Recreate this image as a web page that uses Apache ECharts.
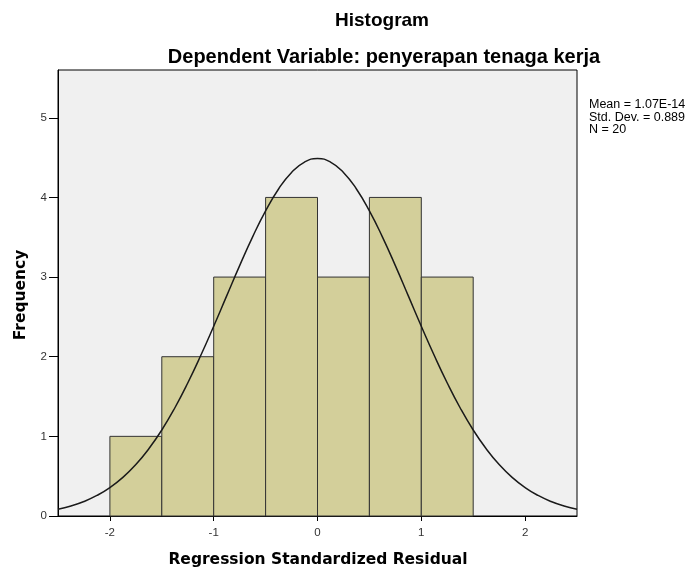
<!DOCTYPE html>
<html>
<head>
<meta charset="utf-8">
<script src="https://cdn.jsdelivr.net/npm/echarts@6/dist/echarts.min.js"></script>
<style>html,body{margin:0;padding:0;background:#fff;}#c{width:691px;height:572px;}</style>
</head>
<body>
<div id="c"></div>
<script>
// Histogram bins (lower edge, upper edge) and frequencies
var binStart = [-2.0, -1.5, -1.0, -0.5, 0.0, 0.5, 1.0];
var binEnd   = [-1.5, -1.0, -0.5, 0.0, 0.5, 1.0, 1.5];
var freq     = [1, 2, 3, 4, 3, 4, 3];

// Normal curve points
var curveX = [-2.5,-2.375,-2.25,-2.125,-2.0,-1.875,-1.75,-1.625,-1.5,-1.375,-1.25,-1.125,-1.0,-0.875,-0.75,-0.625,-0.5,-0.375,-0.25,-0.125,0,0.125,0.25,0.375,0.5,0.625,0.75,0.875,1.0,1.125,1.25,1.375,1.5,1.625,1.75,1.875,2.0,2.125,2.25,2.375,2.5];
var curveY = [0.086,0.126,0.182,0.258,0.357,0.485,0.646,0.844,1.080,1.356,1.670,2.015,2.383,2.764,3.144,3.505,3.831,4.106,4.314,4.444,4.488,4.444,4.314,4.106,3.831,3.505,3.144,2.764,2.383,2.015,1.670,1.356,1.080,0.844,0.646,0.485,0.357,0.258,0.182,0.126,0.086];

var xTicks = [-2, -1, 0, 1, 2];
var yTicks = [0, 1, 2, 3, 4, 5];
var statsLines = ['Mean = 1.07E-14', 'Std. Dev. = 0.889', 'N = 20'];

var barData = binStart.map(function (s, i) { return [s, binEnd[i], freq[i]]; });
var curveData = curveX.map(function (x, i) { return [x, curveY[i]]; });

var FONT = '"Liberation Sans", Arial, sans-serif';
var WIDE = '"DejaVu Sans", Verdana, sans-serif';
var chart = echarts.init(document.getElementById('c'), null, {renderer: 'canvas'});
chart.setOption({
  animation: false,
  backgroundColor: '#ffffff',
  grid: {left: 58, right: 114, top: 70, bottom: 56, show: true, backgroundColor: '#f0f0f0', borderColor: '#000', borderWidth: 1},
  xAxis: {
    type: 'value', min: -2.5, max: 2.5, interval: 0.5,
    axisLine: {show: true, onZero: false, lineStyle: {color: '#000', width: 1}},
    axisTick: {show: true, length: 5, customValues: xTicks, lineStyle: {color: '#000'}},
    axisLabel: {customValues: xTicks, color: '#333', fontSize: 11.5, fontFamily: FONT, margin: 11},
    splitLine: {show: false}
  },
  yAxis: {
    type: 'value', min: 0, max: 5.6, interval: 1,
    axisLine: {show: true, onZero: false, lineStyle: {color: '#000', width: 1}},
    axisTick: {show: true, length: 9, customValues: yTicks, lineStyle: {color: '#000'}},
    axisLabel: {customValues: yTicks, color: '#333', fontSize: 11.5, fontFamily: FONT, margin: 11},
    splitLine: {show: false}
  },
  series: [
    {
      type: 'custom',
      data: barData,
      encode: {x: [0, 1], y: 2},
      renderItem: function (params, api) {
        var p0 = api.coord([api.value(0), 0]);
        var p1 = api.coord([api.value(1), api.value(2)]);
        return {
          type: 'rect',
          shape: {x: p0[0], y: p1[1], width: p1[0] - p0[0], height: p0[1] - p1[1]},
          style: {fill: '#d3cf9a', stroke: '#333', lineWidth: 1}
        };
      },
      z: 2
    },
    {
      type: 'line',
      data: curveData,
      smooth: true,
      showSymbol: false,
      lineStyle: {color: '#1a1a1a', width: 1.5},
      clip: true,
      z: 3
    }
  ],
  graphic: [
    {type: 'text', x: 382, y: 21, style: {text: 'Histogram', font: 'bold 19px ' + FONT, fill: '#000', align: 'center', verticalAlign: 'middle'}},
    {type: 'text', x: 384, y: 57, style: {text: 'Dependent Variable: penyerapan tenaga kerja', font: 'bold 20px ' + FONT, fill: '#000', align: 'center', verticalAlign: 'middle'}},
    {type: 'text', x: 589, y: 98, style: {text: statsLines.join('\n'), font: '12.5px ' + FONT, lineHeight: 12.7, fill: '#000'}},
    {type: 'text', x: 21, y: 295, rotation: Math.PI / 2, style: {text: 'Frequency', font: 'bold 15.5px ' + WIDE, fill: '#000', align: 'center', verticalAlign: 'middle'}},
    {type: 'text', x: 318, y: 560, style: {text: 'Regression Standardized Residual', font: 'bold 15.5px ' + WIDE, fill: '#000', align: 'center', verticalAlign: 'middle'}}
  ]
});
</script>
</body>
</html>
